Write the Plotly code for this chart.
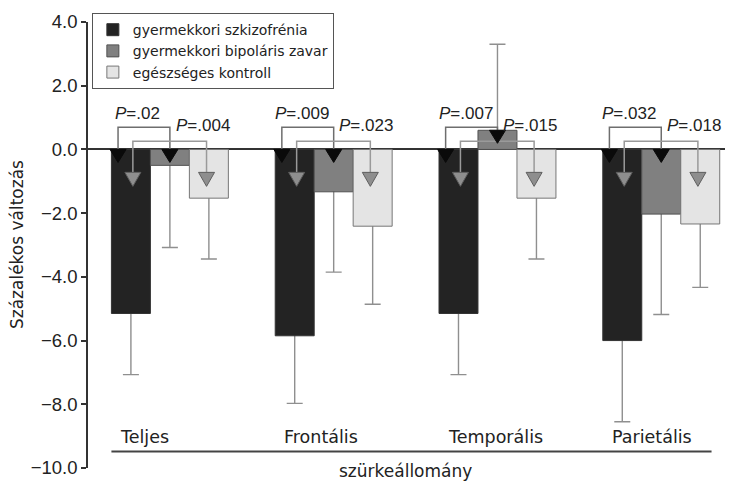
import plotly.graph_objects as go

# ---------------- data ----------------
categories = ["Teljes", "Frontális", "Temporális", "Parietális"]
series_names = ["gyermekkori szkizofrénia", "gyermekkori bipoláris zavar", "egészséges kontroll"]

schizo = [-5.15, -5.85, -5.15, -6.00]
schizo_err = [1.92, 2.12, 1.92, 2.55]
bipolar = [-0.50, -1.33, 0.60, -2.03]
bipolar_err = [2.58, 2.52, 2.70, 3.15]
control = [-1.53, -2.41, -1.53, -2.34]
control_err = [1.91, 2.45, 1.91, 1.99]

# P values: schizophrenia vs bipolar (black markers), schizophrenia vs control (grey markers)
p_schizo_bipolar = [".02", ".009", ".007", ".032"]
p_schizo_control = [".004", ".023", ".015", ".018"]

y_ticks = [4, 2, 0, -2, -4, -6, -8, -10]
x_title = "szürkeállomány"
y_title = "Százalékos változás"

# ---------------- style ----------------
bar_colors = ["#232323", "#808080", "#e4e4e4"]
bar_lines = ["#333333", "#505050", "#777777"]
err_color = "#8f8f8f"
BARGAP = 0.286
W = (1 - BARGAP) / 3  # width of one bar in axis units

# marker offsets in bar-width units (relative to the compared bar centres)
OFF_BLACK = (-0.33, 0.0)
OFF_GREY = (0.05, -0.06)
BRACKET1_TOP = 0.70
BRACKET2_TOP = 0.26
GREY_DEPTH = -0.72
FONT_TXT = "DejaVu Sans"
FONT_NUM = "Liberation Sans, Arial, sans-serif"

values = [schizo, bipolar, control]
errors = [schizo_err, bipolar_err, control_err]
xs = list(range(len(categories)))

fig = go.Figure()

# error bars (drawn below the bars so only the outer whisker is visible)
for k in range(3):
    plus, minus = [], []
    for v, e in zip(values[k], errors[k]):
        if v >= 0:
            plus.append(e)
            minus.append(v / 2)
        else:
            plus.append(-v / 2)
            minus.append(e)
    fig.add_trace(go.Bar(
        x=xs, y=values[k], offsetgroup=str(k), showlegend=False, hoverinfo="skip",
        marker=dict(color="rgba(0,0,0,0)", line=dict(width=0)),
        error_y=dict(type="data", symmetric=False, array=plus, arrayminus=minus,
                     color=err_color, thickness=1.4, width=8),
    ))

for k in range(3):
    fig.add_trace(go.Bar(
        x=xs, y=values[k], offsetgroup=str(k), name=series_names[k],
        marker=dict(color=bar_colors[k], line=dict(color=bar_lines[k], width=1)),
    ))

shapes = []
annotations = []

def tri(x, y, fill, line, depth, width=8):
    return dict(type="path", xref="x", yref="y", xsizemode="pixel", ysizemode="pixel",
                xanchor=x, yanchor=y,
                path=f"M-{width},0 L{width},0 L0,-{depth} Z",
                fillcolor=fill, line=dict(color=line, width=1), layer="above")

for i in xs:
    xd, xm, xl = i - W, i, i + W
    # bracket 1: schizophrenia vs bipolar (black)
    bL = xd + OFF_BLACK[0] * W
    bR = xm + OFF_BLACK[1] * W
    yL = max(schizo[i], 0)
    yR = max(bipolar[i], 0)
    shapes.append(dict(type="path", xref="x", yref="y",
                       path=f"M{bL},{yL} V{BRACKET1_TOP} H{bR} V{yR}",
                       line=dict(color="#6e6e6e", width=1.5)))
    # bracket 2: schizophrenia vs control (grey)
    gL = xd + OFF_GREY[0] * W
    gR = xl + OFF_GREY[1] * W
    shapes.append(dict(type="path", xref="x", yref="y",
                       path=f"M{gL},{GREY_DEPTH} V{BRACKET2_TOP} H{gR} V{GREY_DEPTH}",
                       line=dict(color="#9a9a9a", width=1.5)))
    # triangles
    shapes.append(tri(bL, yL, "#0a0a0a", "#0a0a0a", 13))
    shapes.append(tri(bR, yR, "#0a0a0a", "#0a0a0a", 13))
    shapes.append(tri(gL, GREY_DEPTH, "#8e8e8e", "#5e5e5e", 14))
    shapes.append(tri(gR, GREY_DEPTH, "#8e8e8e", "#5e5e5e", 14))

    annotations.append(dict(x=(bL + bR) / 2, y=BRACKET1_TOP, xref="x", yref="y",
                            text=f"<i>P</i>={p_schizo_bipolar[i]}", showarrow=False,
                            yanchor="bottom", xanchor="center", xshift=-6, yshift=2,
                            font=dict(family=FONT_NUM, size=17, color="#222")))
    annotations.append(dict(x=gR, y=BRACKET2_TOP, xref="x", yref="y",
                            text=f"<i>P</i>={p_schizo_control[i]}", showarrow=False,
                            yanchor="bottom", xanchor="center", xshift=-4, yshift=4,
                            font=dict(family=FONT_NUM, size=17, color="#222")))
    # category label
    annotations.append(dict(x=i - 1.5 * W, y=-9.04, xref="x", yref="y",
                            text=categories[i], showarrow=False,
                            xanchor="left", yanchor="middle", xshift=7,
                            font=dict(family=FONT_TXT, size=17.5, color="#222")))

# underline below category labels
shapes.append(dict(type="line", xref="x", yref="y",
                   x0=xs[0] - 1.5 * W, x1=xs[-1] + 1.5 * W - 0.05, y0=-9.48, y1=-9.48,
                   line=dict(color="#444", width=2)))

annotations.append(dict(x=0.4915, y=-0.007, xref="paper", yref="paper", text=x_title,
                        showarrow=False, xanchor="center", yanchor="middle",
                        font=dict(family=FONT_TXT, size=17, color="#222")))
annotations.append(dict(x=-0.110, y=0.5, xref="paper", yref="paper", text=y_title,
                        showarrow=False, textangle=-90, xanchor="center", yanchor="middle",
                        font=dict(family=FONT_TXT, size=17, color="#222")))

# the page body adds an 8px offset, so margins are shifted accordingly
fig.update_layout(
    width=733, height=482,
    margin=dict(l=80, r=8, t=14, b=22, autoexpand=False),
    paper_bgcolor="white", plot_bgcolor="white",
    barmode="group", bargap=BARGAP, bargroupgap=0,
    shapes=shapes, annotations=annotations,
    legend=dict(x=0.006, y=1.02, xanchor="left", yanchor="top",
                bgcolor="white", bordercolor="#555", borderwidth=1,
                font=dict(family=FONT_TXT, size=14, color="#222"),
                traceorder="normal"),
    xaxis=dict(range=[-0.5, 3.438], showticklabels=False, ticks="", showline=False,
               showgrid=False, zeroline=False),
    yaxis=dict(range=[-10, 4], tickvals=y_ticks, tickformat=".1f",
               ticks="outside", ticklen=5, tickwidth=1.5, tickcolor="#333",
               showline=True, linecolor="#333", linewidth=1.5,
               showgrid=False, zeroline=True, zerolinecolor="#333", zerolinewidth=1.5,
               tickfont=dict(family=FONT_NUM, size=18.5, color="#222")),
)

fig.write_html("out.html")
